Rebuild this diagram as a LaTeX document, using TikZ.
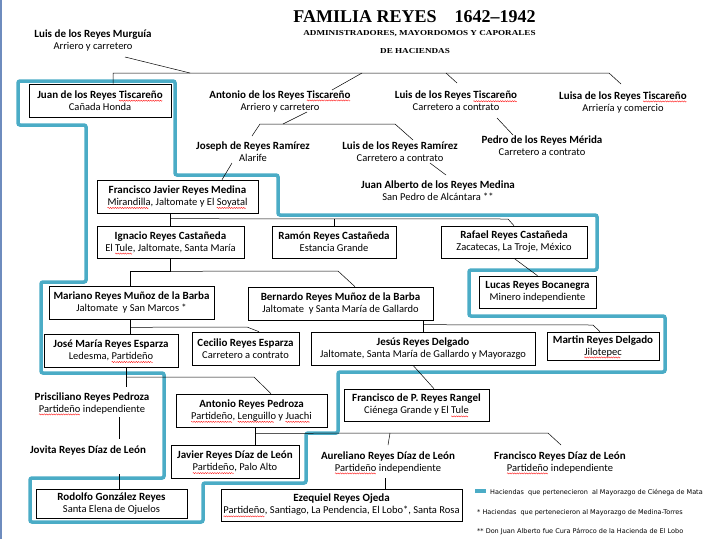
\documentclass[tikz,border=0pt]{standalone}
\usepackage{fontspec}
\setmainfont{Carlito}
\newfontfamily\titlefont{Liberation Serif}
\newfontfamily\notefont{DejaVu Sans}
\usepackage{graphicx}

\definecolor{aqua}{RGB}{75,172,198}
\definecolor{edge}{RGB}{110,140,190}

\newsavebox\sqbox
\newcommand\wave{\hbox to 2.4pt{\tikz[overlay, baseline=0pt]\draw[red, line width=0.35pt, fill=none] (0pt,0pt) sin (0.6pt,0.6pt) cos (1.2pt,0pt) sin (1.8pt,-0.6pt) cos (2.4pt,0pt);\hss}}
\newcommand\sq[1]{\sbox\sqbox{#1}\rlap{\raisebox{-2.4pt}[0pt][0pt]{\hbox to\wd\sqbox{\leaders\wave\hfill}}}\usebox\sqbox}

\tikzset{
  person/.style={draw, line width=0.6pt, align=center, inner sep=0pt},
  loose/.style={align=center, inner sep=1pt},
  tie/.style={line width=0.5pt},
  zone/.style={aqua, line width=3.5pt, rounded corners=2pt},
  note/.style={anchor=west, inner sep=0pt, font=\notefont\fontsize{6.5}{7}\selectfont},
}
\newcommand\nm[1]{{\fontsize{11}{12}\selectfont\bfseries #1}}
\newcommand\who[2]{\nm{#1}\\#2}

\begin{document}
\begin{tikzpicture}[x=1pt, y=-1pt, font=\fontsize{10.5}{12}\selectfont]
    \useasboundingbox (0,0) rectangle (720,539);
    \fill[edge] (0,0) rectangle (1.5,539);

    % titulo
    \node (title) at (414.5,17) {\titlefont\bfseries\fontsize{18}{20}\selectfont FAMILIA REYES\quad 1642–1942};
    \node (sub1) at (419.5,34) {\scalebox{1.2}[1]{\titlefont\bfseries\fontsize{7.6}{9}\selectfont ADMINISTRADORES, MAYORDOMOS Y CAPORALES}};
    \node (sub2) at (415,51.5) {\scalebox{1.2}[1]{\titlefont\bfseries\fontsize{7.6}{9}\selectfont DE HACIENDAS}};

    % mayorazgo de Cienega de Mata
    \draw[zone] (18,81) -- (175,81) -- (175,175) -- (278,175) -- (278,215) -- (597,215)
        -- (597,270) -- (469,270) -- (469,316) -- (665,316) -- (665,372) -- (338,372)
        -- (338,433) -- (306,433) -- (306,483) -- (203,483) -- (203,522) -- (30,522)
        -- (30,478) -- (164,478) -- (164,373) -- (41,373) -- (41,282) -- (86,282)
        -- (86,125) -- (18,125) -- cycle;

    % personas
    \node[loose] (murguia) at (93,40) {\who{Luis de los Reyes Murguía}{Arriero y carretero}};
    \node[person, minimum width=142pt, minimum height=33pt, fill=white] (juan) at (100,100.5) {\who{Juan de los Reyes \sq{Tiscareño}}{Cañada Honda}};
    \node[loose] (antonio) at (280,101) {\who{Antonio de los Reyes \sq{Tiscareño}}{Arriero y carretero}};
    \node[loose] (luist) at (456,101) {\who{Luis de los Reyes \sq{Tiscareño}}{Carretero a contrato}};
    \node[loose] (luisa) at (623,102) {\who{Luisa de los Reyes \sq{Tiscareño}}{Arriería y comercio}};
    \node[loose] (joseph) at (253,152) {\who{Joseph de Reyes Ramírez}{Alarife}};
    \node[loose] (luisr) at (400,152) {\who{Luis de los Reyes Ramírez}{Carretero a contrato}};
    \node[loose] (pedro) at (542,146) {\who{Pedro de los Reyes Mérida}{Carretero a contrato}};
    \node[loose] (jalberto) at (438,190.5) {\who{Juan Alberto de los Reyes Medina}{San Pedro de Alcántara **}};
    \node[person, minimum width=161pt, minimum height=33pt] (fjavier) at (177.5,196.5) {\who{Francisco Javier Reyes Medina}{\sq{Mirandilla}, Jaltomate y El \sq{Soyatal}}};
    \node[person, minimum width=147pt, minimum height=32pt] (ignacio) at (170.5,242) {\who{Ignacio Reyes Castañeda}{El \sq{Tule}, Jaltomate, Santa María}};
    \node[person, minimum width=124pt, minimum height=32pt] (ramon) at (334,242) {\who{Ramón Reyes Castañeda}{Estancia Grande}};
    \node[person, minimum width=146pt, minimum height=32pt] (rafael) at (514,242) {\who{Rafael Reyes Castañeda}{Zacatecas, La Troje, México}};
    \node[person, minimum width=117pt, minimum height=32pt] (lucas) at (537.5,292) {\who{Lucas Reyes Bocanegra}{Minero independiente}};
    \node[person, minimum width=165pt, minimum height=33pt] (mariano) at (131.5,302.5) {\who{Mariano Reyes Muñoz de la Barba}{Jaltomate\ \ y San Marcos *}};
    \node[person, minimum width=185pt, minimum height=33pt] (bernardo) at (340.5,303.5) {\who{Bernardo Reyes Muñoz de la Barba}{Jaltomate\ \ y Santa María de Gallardo}};
    \node[person, minimum width=134pt, minimum height=33pt] (jose) at (111,350.5) {\who{José María Reyes Esparza}{Ledesma, \sq{Partideño}}};
    \node[person, minimum width=107pt, minimum height=33pt] (cecilio) at (245.5,348.5) {\who{Cecilio Reyes Esparza}{Carretero a contrato}};
    \node[person, minimum width=224pt, minimum height=33pt] (jesus) at (423,348.5) {\who{Jesús Reyes Delgado}{Jaltomate, Santa María de Gallardo y Mayorazgo}};
    \node[person, minimum width=112pt, minimum height=28pt] (martin) at (603,346) {\who{Martin Reyes Delgado}{\sq{Jilotepec}}};
    \node[person, minimum width=145pt, minimum height=32pt] (fdep) at (416.5,405) {\who{Francisco de P. Reyes Rangel}{Ciénega Grande y El \sq{Tule}}};
    \node[loose] (prisciliano) at (92,403) {\who{Prisciliano Reyes Pedroza}{\sq{Partideño} independiente}};
    \node[person, minimum width=151pt, minimum height=33pt] (apedroza) at (251.5,410.5) {\who{Antonio Reyes Pedroza}{\sq{Partideño}, \sq{Lenguillo} y \sq{Juachi}}};
    \node[loose] (jovita) at (88,450) {\nm{Jovita Reyes Díaz de León}};
    \node[person, minimum width=128pt, minimum height=33pt] (javier) at (235,461.5) {\who{Javier Reyes Díaz de León}{\sq{Partideño}, Palo Alto}};
    \node[loose] (aureliano) at (388,462) {\who{Aureliano Reyes Díaz de León}{\sq{Partideño} independiente}};
    \node[loose] (fdiaz) at (560,462) {\who{Francisco Reyes Díaz de León}{\sq{Partideño} independiente}};
    \node[person, minimum width=151pt, minimum height=29pt] (rodolfo) at (111.5,503.5) {\who{Rodolfo González Reyes}{Santa Elena de Ojuelos}};
    \node[person, minimum width=241pt, minimum height=32pt] (ezequiel) at (341.5,505) {\who{Ezequiel Reyes Ojeda}{\sq{Partideño}, Santiago, La Pendencia, El Lobo*, Santa Rosa}};

    % lineas
    \begin{scope}[tie]
        \draw (125,57) -- (190,73);
        \draw ([xshift=13pt]juan.north) -- (113,73) -- (609,73) -- (621,84);
        \draw (446,73) -- (457,83);
        \draw (362,73) -- (332,90);
        \draw (307,112) -- (283,124);
        \draw (252,136) -- (260,124) -- (395,124) -- (413,140);
        \draw (497,118) -- (513,135);
        \draw (430,163) -- (446,175);
        \draw (232,163) -- ([xshift=44.5pt]fjavier.north);
        \draw (ignacio.north |- fjavier.south) -- (ignacio.north);
        \draw (ignacio.north) ++(0,-7) -- (508,219) -- (rafael.north);
        \draw (ramon.north) -- ++(0,-7);
        \draw (rafael.south) -- (lucas.north);
        \draw (ignacio.south) -- ++(0,13) -| ([xshift=-1.5pt]mariano.north);
        \draw (ignacio.south) ++(0,13) -- (338,271) -- ([xshift=14.5pt]bernardo.north);
        \draw ([xshift=-1.5pt]mariano.south) -- ([xshift=19pt]jose.north);
        \draw ([xshift=-1.5pt]mariano.south) ++(0,8) -- (247,327) -- ([xshift=13.5pt]cecilio.north);
        \draw (jesus.north |- bernardo.south) -- (jesus.north);
        \draw (jesus.north) ++(0,-7) -- (593,325) -- ([xshift=-3pt]martin.north);
        \draw ([xshift=-10pt]jesus.south) -- ([xshift=17.5pt]fdep.north);
        \draw ([xshift=15pt]jose.south) -- (126,387);
        \draw (126,377) -- (254,377) -- ([xshift=19.5pt]apedroza.north);
        \draw (119,417) -- (119,439);
        \draw (119,474) -- ([xshift=7.5pt]rodolfo.north);
        \draw ([xshift=3.5pt]apedroza.south) -- ([xshift=20pt]javier.north);
        \draw ([xshift=3.5pt]apedroza.south) ++(0,6) -- (548,433) -- (561,445);
        \draw (390,433) -- (388,445);
        \draw (385,478) -- ([xshift=43.5pt]ezequiel.north);
    \end{scope}

    % notas
    \draw[aqua, line width=3.5pt] (475,491) coordinate (k0) -- (486,491) coordinate (k1);
    \node[note] (n1) at (490,493) {Haciendas\ \ que pertenecieron\ \ al Mayorazgo de Ciénega de Mata};
    \node[note] (n2) at (477,513) {* Haciendas\ \ que pertenecieron al Mayorazgo de Medina-Torres};
    \node[note] (n3) at (477,532) {** Don Juan Alberto fue Cura Párroco de la Hacienda de El Lobo};
\end{tikzpicture}
\end{document}
